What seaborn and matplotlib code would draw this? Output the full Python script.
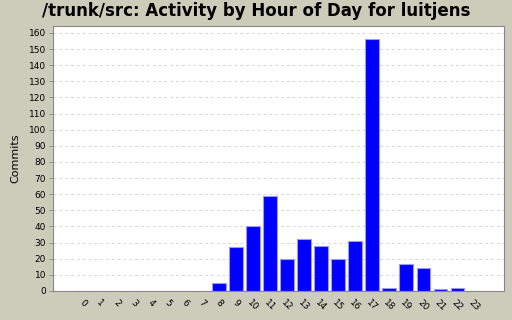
import matplotlib
matplotlib.use("Agg")
import matplotlib.pyplot as plt
import seaborn as sns
import pandas as pd

hours = [str(h) for h in range(24)]
commits = [0, 0, 0, 0, 0, 0, 0, 0, 5, 27, 40, 59, 20, 32, 28, 20, 31, 156, 2, 17, 14, 1, 2, 0]
title = "/trunk/src: Activity by Hour of Day for luitjens"
ylabel = "Commits"

df = pd.DataFrame({"hour": hours, "commits": commits})

sns.set_theme(style="white")
plt.rcParams['font.family'] = ['DejaVu Sans']
plt.rcParams['text.color'] = 'black'
plt.rcParams['axes.labelcolor'] = 'black'
plt.rcParams['xtick.color'] = 'black'
plt.rcParams['ytick.color'] = 'black'
bg = "#CCCCBA"
fig = plt.figure(figsize=(5.12, 3.2), dpi=100, facecolor=bg)
ax = fig.add_axes([53/512, 1-291/320, (504-53)/512, (291-26)/320])
ax.set_facecolor("white")
ax.set_axisbelow(True)
ax.yaxis.grid(True, color="#D8D8D8", linestyle=(0, (3, 3)), linewidth=0.7)

sns.barplot(data=df, x="hour", y="commits", color="#0000FF", saturation=1,
            width=0.77, edgecolor="#9999FF", linewidth=0.8, ax=ax)

ax.set_xlim(-1.76, 24.76)
ax.set_ylim(0, 164.3)
ax.set_yticks(range(0, 161, 10))
ax.tick_params(axis="y", labelsize=6.5, length=3, width=0.6, color="#888888",
               labelcolor="black", pad=2, left=True)
ax.tick_params(axis="x", labelsize=6.5, length=0, pad=5, labelcolor="black")
for lab in ax.get_xticklabels():
    lab.set_rotation(-45)
    lab.set_ha("center")
    lab.set_va("top")
ax.set_xlabel("")
ax.set_ylabel(ylabel, fontsize=8, labelpad=6, color="black")
for s in ax.spines.values():
    s.set_color("#888888")
    s.set_linewidth(0.8)
fig.text(0.5, 1-11/320, title, ha="center", va="center", fontsize=12,
         fontweight="bold", color="black")
fig.savefig("out.png", dpi=100, facecolor=bg)
